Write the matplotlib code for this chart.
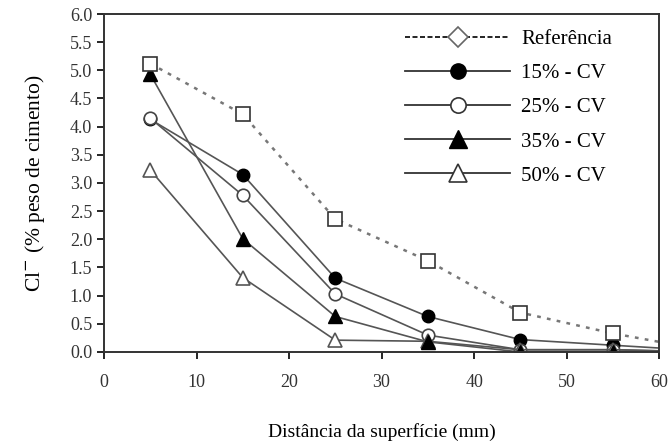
import matplotlib.pyplot as plt
from matplotlib.lines import Line2D

# ============================
# DATA
# ============================
dist = [5, 15, 25, 35, 45, 55, 65]
ref = [5.12, 4.22, 2.36, 1.62, 0.70, 0.33, 0.03]
cv15 = [4.13, 3.15, 1.31, 0.63, 0.22, 0.12, 0.02]
cv25 = [4.15, 2.78, 1.03, 0.30, 0.04, 0.04, 0.0]
cv35 = [4.93, 2.01, 0.63, 0.18, 0.0, 0.0, 0.0]
cv50 = [3.23, 1.32, 0.21, 0.19, 0.04, 0.04, 0.0]

plt.rcParams['font.family'] = ['Liberation Serif', 'DejaVu Serif']

fig = plt.figure(figsize=(6.72, 4.46), dpi=100)
ax = fig.add_axes([0.1548, 0.2108, 0.826, 0.7578])

lc = '#555555'
ax.plot(dist, cv15, '-o', color=lc, lw=1.2, ms=9, mfc='black', mec='black')
ax.plot(dist, cv25, '-o', color=lc, lw=1.2, ms=9, mfc='white', mec='#444444', mew=1.2)
ax.plot(dist, cv50, '-^', color=lc, lw=1.2, ms=10, mfc='white', mec='#555555', mew=1.2)
ax.plot(dist, cv35, '-^', color=lc, lw=1.2, ms=10, mfc='black', mec='black')
ax.plot(dist, ref, linestyle=(0, (1.5, 2.5)), color='#777777', lw=1.8,
        marker='s', ms=9.5, mfc='white', mec='#333333', mew=1.2)

ax.set_xlim(0, 60)
ax.set_ylim(0, 6)
ax.set_xticks(range(0, 61, 10))
ax.set_yticks([i * 0.5 for i in range(13)])
ax.set_yticklabels([f"{i * 0.5:.1f}" for i in range(13)])
ax.tick_params(direction='out', length=5, width=1.2, labelsize=13,
               labelcolor='#333333', top=False, right=False)
ax.tick_params(axis='x', pad=11)
for s in ax.spines.values():
    s.set_linewidth(1.4)
    s.set_color('#333333')

ax.set_xlabel("Distância da superfície (mm)", fontsize=14, labelpad=23)
ax.set_ylabel("Cl$^{-}$ (% peso de cimento)", fontsize=15.5, labelpad=16)

handles = [
    Line2D([], [], color='black', lw=1.2, linestyle=(0, (3, 1.5)),
           marker='D', ms=10, mfc='white', mec='#666666', mew=1.2),
    Line2D([], [], color='#333333', lw=1.3, marker='o', ms=11, mfc='black', mec='black'),
    Line2D([], [], color='#333333', lw=1.3, marker='o', ms=11, mfc='white', mec='#333333', mew=1.2),
    Line2D([], [], color='#333333', lw=1.3, marker='^', ms=13, mfc='black', mec='black'),
    Line2D([], [], color='#333333', lw=1.3, marker='^', ms=13, mfc='white', mec='#333333', mew=1.2),
]
labels = ["Referência", "15% - CV", "25% - CV", "35% - CV", "50% - CV"]
ax.legend(handles, labels, loc='upper left', frameon=False, fontsize=15,
          handlelength=5.0, handletextpad=0.55, labelspacing=0.7,
          bbox_to_anchor=(0.528, 0.979), borderaxespad=0)

fig.savefig("out.png", dpi=100)
